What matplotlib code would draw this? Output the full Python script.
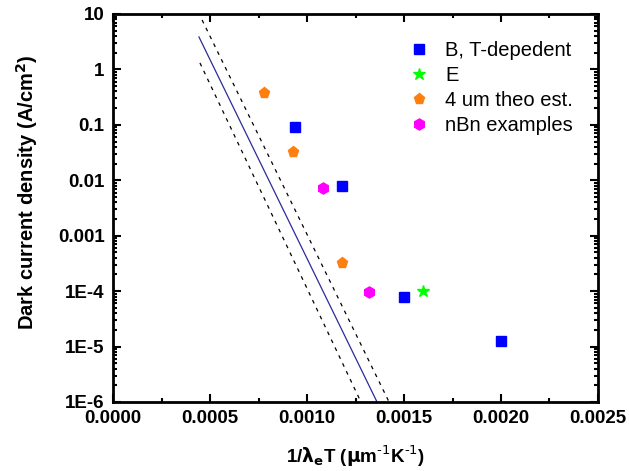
import numpy as np
import matplotlib
matplotlib.use("Agg")
import matplotlib.pyplot as plt
import matplotlib.ticker as mticker

plt.rcParams['font.family'] = ['Liberation Sans', 'DejaVu Sans']

# measured points, x in 1/(um K), y in A/cm^2
b_x = [0.00094, 0.00118, 0.0015, 0.002]
b_y = [0.091, 0.0079, 7.8e-5, 1.26e-5]
e_x = [0.0016]
e_y = [1.0e-4]
theo_x = [0.00078, 0.00093, 0.00118]
theo_y = [0.376, 0.032, 3.2e-4]
nbn_x = [0.00108, 0.00132]
nbn_y = [0.0073, 9.7e-5]

# rule line and its x2.5 band (end points)
rule_x = [0.000443, 0.001361]
rule_y = [3.85, 1e-6]
upper_x = [0.000459, 0.001423]
upper_y = [7.8, 1e-6]
lower_x = [0.000448, 0.001278]
lower_y = [1.31, 1e-6]

ytick_vals = [1e-6, 1e-5, 1e-4, 1e-3, 1e-2, 1e-1, 1, 10]
ytick_text = ["1E-6", "1E-5", "1E-4", "0.001", "0.01", "0.1", "1", "10"]

fig = plt.figure(figsize=(6.29, 4.71), dpi=100)
ax = fig.add_axes([0.1797, 0.1465, 0.771, 0.8238])

ax.plot(rule_x, rule_y, color="#2b2b9c", lw=0.9)
ax.plot(upper_x, upper_y, color="black", lw=0.9, ls=(0, (3, 4)))
ax.plot(lower_x, lower_y, color="black", lw=0.9, ls=(0, (3, 4)))

ax.plot(b_x, b_y, "s", color="#0000ff", ms=7, ls="none", label="B, T-depedent")
ax.plot(e_x, e_y, "*", color="#00ff00", ms=9, ls="none", label="E")
ax.plot(theo_x, theo_y, "p", color="#ff7f0e", ms=8, ls="none", label="4 um theo est.")
ax.plot(nbn_x, nbn_y, "h", color="#ff00ff", ms=8, ls="none", label="nBn examples")

ax.set_yscale("log")
ax.set_xlim(0, 0.0025)
ax.set_ylim(1e-6, 10)
ax.set_yticks(ytick_vals)
ax.set_yticklabels(ytick_text)
ax.yaxis.set_minor_locator(mticker.LogLocator(base=10, subs=np.arange(2, 10), numticks=20))
ax.yaxis.set_minor_formatter(mticker.NullFormatter())
ax.xaxis.set_major_locator(mticker.MultipleLocator(0.0005))
ax.xaxis.set_minor_locator(mticker.MultipleLocator(0.00025))
ax.xaxis.set_major_formatter(mticker.FormatStrFormatter("%.4f"))

for s in ax.spines.values():
    s.set_linewidth(2)
ax.tick_params(which="both", direction="in", top=True, right=True, width=1.5)
ax.tick_params(which="major", length=6, labelsize=13.5, pad=6)
ax.tick_params(which="minor", length=3)
for lab in ax.get_xticklabels() + ax.get_yticklabels():
    lab.set_fontweight("bold")

ax.set_xlabel(r"1/$\mathbf{\lambda_e}$T ($\mathbf{\mu}$m$^{\text{-1}}$K$^{\text{-1}}$)",
              fontsize=13.5, fontweight="bold", labelpad=12)
ax.set_ylabel(r"Dark current density (A/cm$^{\mathbf{2}}$)", fontsize=14.5,
              fontweight="bold")
ax.yaxis.set_label_coords(-0.151, 0.541)

ax.legend(loc="upper left", frameon=False, fontsize=14.5, handlelength=1.0,
          handletextpad=0.8, labelspacing=0.3, bbox_to_anchor=(0.573, 0.978))

fig.savefig("out.png", dpi=100)
